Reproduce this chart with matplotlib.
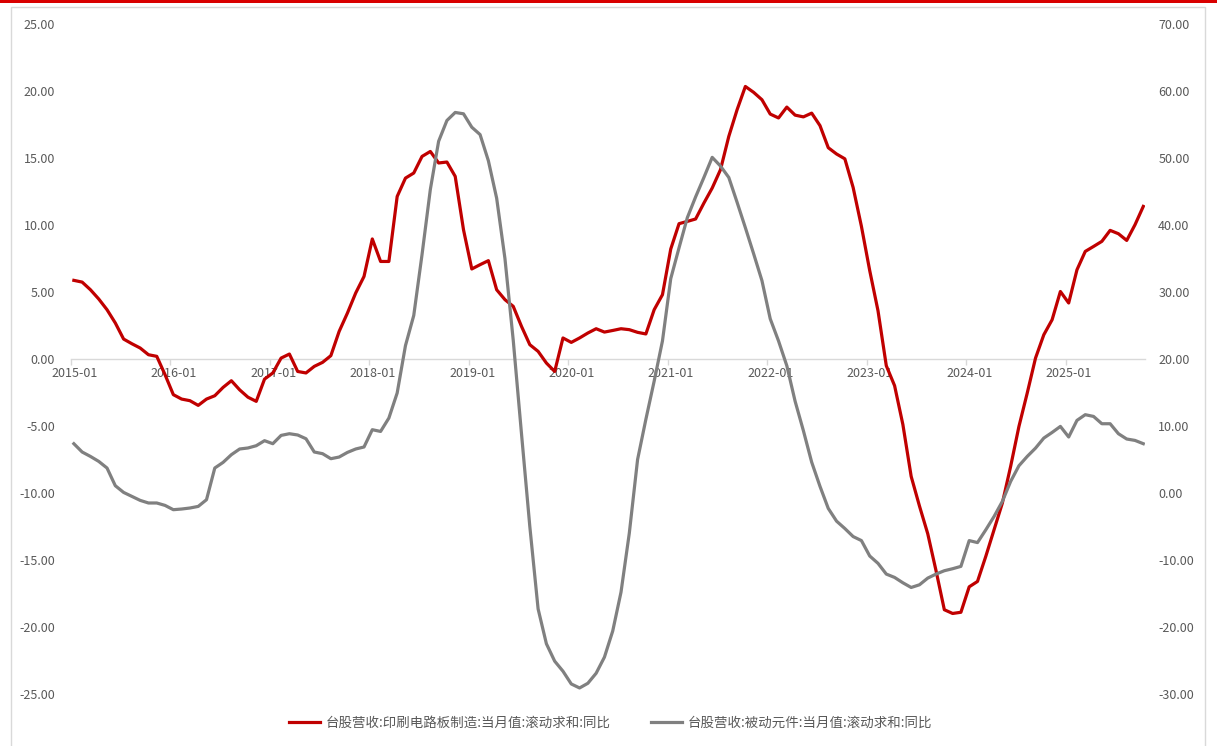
import numpy as np
import matplotlib.pyplot as plt
from matplotlib.patches import Rectangle

plt.rcParams['font.family'] = ['Noto Sans CJK SC', 'DejaVu Sans']

# 月度数据：2015-01 至 2025-10
pcb_yoy = [
    5.87, 5.74, 5.17, 4.48, 3.68, 2.69, 1.49, 1.14, 0.82, 0.32, 0.20, -1.17,
    -2.66, -2.99, -3.11, -3.46, -2.99, -2.74, -2.12, -1.62, -2.30, -2.85, -3.16, -1.50,
    -1.04, 0.07, 0.37, -0.93, -1.04, -0.55, -0.25, 0.25, 2.06, 3.43, 4.93, 6.16,
    8.96, 7.28, 7.28, 12.13, 13.50, 13.88, 15.12, 15.49, 14.63, 14.70, 13.63, 9.65,
    6.72, 7.04, 7.34, 5.17, 4.43, 3.93, 2.43, 1.07, 0.57, -0.30, -0.93, 1.57,
    1.24, 1.57, 1.94, 2.26, 2.01, 2.13, 2.26, 2.19, 1.99, 1.87, 3.68, 4.80,
    8.21, 10.10, 10.27, 10.45, 11.64, 12.76, 14.13, 16.61, 18.60, 20.34, 19.90, 19.35,
    18.28, 17.99, 18.80, 18.20, 18.07, 18.35, 17.42, 15.77, 15.30, 14.94, 12.80, 9.90,
    6.60, 3.60, -0.50, -1.99, -4.89, -8.76, -10.97, -13.04, -15.80, -18.71, -18.99, -18.90,
    -17.00, -16.60, -14.73, -12.74, -10.75, -8.01, -5.03, -2.54, 0.07, 1.81, 2.93, 5.04,
    4.18, 6.66, 8.03, 8.40, 8.78, 9.60, 9.35, 8.85, 10.02, 11.39,
]
passive_yoy = [
    7.36, 6.12, 5.46, 4.72, 3.73, 1.09, 0.09, -0.51, -1.10, -1.49, -1.49, -1.85,
    -2.49, -2.39, -2.24, -2.00, -1.00, 3.73, 4.57, 5.72, 6.57, 6.72, 7.06, 7.81,
    7.36, 8.60, 8.85, 8.66, 8.10, 6.12, 5.87, 5.12, 5.37, 6.06, 6.57, 6.87,
    9.45, 9.19, 11.19, 14.93, 22.00, 26.50, 35.60, 45.30, 52.50, 55.60, 56.80, 56.60,
    54.60, 53.50, 49.60, 44.00, 35.00, 22.80, 8.80, -5.00, -17.30, -22.50, -25.10, -26.60,
    -28.50, -29.10, -28.40, -26.90, -24.50, -20.60, -14.80, -6.00, 5.00, 11.00, 16.70, 22.70,
    32.00, 36.60, 41.10, 44.20, 47.10, 50.10, 48.80, 47.10, 43.40, 39.60, 35.70, 31.70,
    26.00, 22.70, 19.00, 13.70, 9.30, 4.60, 1.00, -2.30, -4.20, -5.30, -6.50, -7.10,
    -9.40, -10.50, -12.10, -12.60, -13.40, -14.10, -13.70, -12.70, -12.10, -11.60, -11.30, -10.95,
    -7.10, -7.40, -5.50, -3.50, -1.25, 1.73, 4.07, 5.46, 6.70, 8.20, 9.04, 9.94,
    8.36, 10.84, 11.69, 11.43, 10.34, 10.34, 8.85, 8.06, 7.85, 7.36,
]
year_labels = [f'{y}-01' for y in range(2015, 2026)]

pcb_name = '台股营收:印刷电路板制造:当月值:滚动求和:同比'
passive_name = '台股营收:被动元件:当月值:滚动求和:同比'

RED = '#C00000'
GREY = '#808080'
TXT = '#595959'
GRID = '#D9D9D9'

x = np.arange(len(pcb_yoy)) + 0.35
year_pos = np.arange(len(year_labels)) * 12

fig = plt.figure(figsize=(12.17, 7.46), dpi=100)

# 外框与顶部红条
fig.add_artist(Rectangle((0.009, -0.01), 0.981, 1.0006, transform=fig.transFigure,
                         fill=False, edgecolor=GRID, lw=1.0))
fig.add_artist(Rectangle((0, 0.9955), 1, 0.0045, transform=fig.transFigure,
                         facecolor='#D90000', edgecolor='none'))

ax = fig.add_axes([0.0583, 0.0697, 0.8825, 0.8981])
ax2 = ax.twinx()

l1, = ax.plot(x, pcb_yoy, color=RED, lw=2.3, zorder=3, label=pcb_name)
l2, = ax2.plot(x, passive_yoy, color=GREY, lw=2.3, zorder=3, label=passive_name)

ax.set_xlim(0, 129.55)
ax.set_ylim(-25, 25)
ax2.set_ylim(-30, 70)
ax.set_yticks(np.arange(-25, 26, 5))
ax2.set_yticks(np.arange(-30, 71, 10))
ax.yaxis.set_major_formatter(lambda v, p: f'{v:.2f}')
ax2.yaxis.set_major_formatter(lambda v, p: f'{v:.2f}')

# 年度刻度线在 0 轴上，标签稍右移
ax.set_xticks(year_pos)
ax.set_xticklabels([])
ax.set_xticks(year_pos + 0.4, year_labels, minor=True)
ax.tick_params(axis='x', which='major', length=4, width=1, color=GRID)
ax.tick_params(axis='x', which='minor', length=0, pad=6, labelsize=9, labelcolor=TXT)
ax.tick_params(axis='y', length=0, pad=11.5, labelsize=9, labelcolor=TXT)
ax2.tick_params(axis='y', length=0, pad=9.5, labelsize=9, labelcolor=TXT)

for s in ['top', 'right', 'left']:
    ax.spines[s].set_visible(False)
for s in ax2.spines.values():
    s.set_visible(False)
ax.spines['bottom'].set_position(('data', 0))
ax.spines['bottom'].set_color(GRID)
ax.spines['bottom'].set_linewidth(1)

fig.legend([l1, l2], [pcb_name, passive_name], loc='center', bbox_to_anchor=(0.5016, 0.031),
           ncol=2, frameon=False, fontsize=9.7, labelcolor=TXT, handlelength=2.3,
           handletextpad=0.4, columnspacing=3.0)

fig.savefig('out.png', dpi=100)
